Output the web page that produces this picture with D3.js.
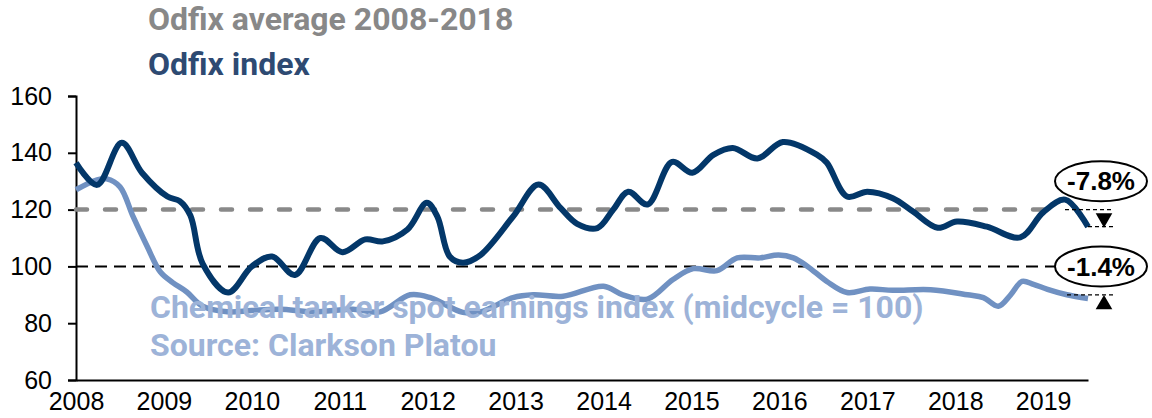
<html>
<style>
body { margin: 0; background: #fff; }
.ttl { font-family: Roboto, sans-serif; font-weight: 700; }
.axis text { font-family: "Liberation Sans", Arial, sans-serif; font-size: 25px; fill: #000; }
</style>
<body>
<script src="https://d3js.org/d3.v7.min.js"></script>
<script>

var width = 1152,
    height = 418;

// Odfix index (decimal year, value)
var odfixDates = [2008.00, 2008.24, 2008.52, 2008.75, 2009.04, 2009.18, 2009.30, 2009.44, 2009.73, 2010.00,
  2010.23, 2010.49, 2010.78, 2011.03, 2011.29, 2011.49, 2011.77, 2011.99, 2012.11, 2012.25,
  2012.40, 2012.60, 2012.97, 2013.26, 2013.51, 2013.70, 2013.93, 2014.11, 2014.28, 2014.50,
  2014.78, 2015.01, 2015.25, 2015.47, 2015.75, 2016.04, 2016.43, 2016.54, 2016.77, 2017.00,
  2017.29, 2017.52, 2017.80, 2018.02, 2018.36, 2018.74, 2019.00, 2019.25, 2019.51];
var odfixValues = [136.5, 128.7, 143.5, 133, 124.6, 123, 118, 101, 90.8, 100,
  103.5, 97, 110, 105, 109.5, 108.8, 113, 122.4, 117.5, 103.5,
  101.3, 104, 117.5, 128.8, 120.6, 115, 113.5, 120, 126.3, 121.8,
  136.8, 133, 139.3, 141.7, 138, 143.8, 139.3, 136.5, 124.6, 126.3,
  124, 119.3, 113.6, 115.8, 114, 110.2, 119, 123.5, 114];

// Chemical tanker spot earnings index
var spotDates = [2008.00, 2008.24, 2008.35, 2008.50, 2008.65, 2008.81, 2008.96, 2009.10, 2009.26, 2009.44,
  2009.72, 2010.00, 2010.32, 2010.70, 2011.15, 2011.46, 2011.80, 2012.03, 2012.40, 2012.60,
  2012.97, 2013.20, 2013.54, 2014.00, 2014.22, 2014.50, 2014.79, 2015.02, 2015.29, 2015.52,
  2015.78, 2015.99, 2016.16, 2016.32, 2016.54, 2016.77, 2017.03, 2017.29, 2017.72, 2018.14,
  2018.32, 2018.49, 2018.63, 2018.76, 2018.89, 2019.05, 2019.27, 2019.51];
var spotValues = [127, 130.5, 130.8, 128, 117.5, 107, 98, 94.3, 91, 86,
  84, 84.5, 84.9, 84, 84.9, 84, 90, 89, 83.8, 84,
  89, 90, 89.5, 93, 90, 88.5, 95.4, 99.2, 98.5, 103,
  103, 104, 103, 100, 94.7, 90.8, 92, 91.6, 91.8, 90,
  89, 86, 90, 94.7, 93.7, 91.9, 90, 88.7];

var years = d3.range(2008, 2020);
var yTicks = [60, 80, 100, 120, 140, 160];
var odfixAverage = 120;   // 2008-2018
var midcycle = 100;
var annLabels = ["-7.8%", "-1.4%"];
var annLabelLevels = [130, 100];
var spotRefLevel = 90;

var titles = ["Odfix average 2008-2018", "Odfix index"];
var notes = ["Chemical tanker spot earnings index (midcycle = 100)", "Source: Clarkson Platou"];

var x = d3.scaleLinear()
    .domain([2008, 2019.51])
    .range([76, 1088]);

var y = d3.scaleLinear()
    .domain([60, 160])
    .range([380, 96]);

var svg = d3.select("body").append("svg")
    .attr("width", width)
    .attr("height", height);

// titles
svg.selectAll(".title")
    .data(titles)
  .enter().append("text")
    .attr("class", "ttl title")
    .attr("x", 148)
    .attr("y", (d, i) => 30 + i * 45)
    .style("font-size", "32px")
    .style("fill", (d, i) => i == 0 ? "#888888" : "#2e4a72")
    .text(d => d);

// y axis
svg.append("g")
    .attr("class", "axis")
    .attr("transform", "translate(" + x(2008) + ",0)")
    .call(d3.axisLeft(y).tickValues(yTicks).tickSize(8).tickPadding(16))
    .call(g => g.selectAll("line,path").attr("stroke", "#000").attr("stroke-width", 2));

// x axis
svg.append("g")
    .attr("class", "axis")
    .attr("transform", "translate(0," + y(60) + ")")
    .call(d3.axisBottom(x).tickValues(years).tickFormat(d3.format("d")).tickSize(0).tickPadding(12).tickSizeOuter(0))
    .call(g => g.select("path").attr("stroke", "#000").attr("stroke-width", 2))
    .call(g => g.selectAll("text").attr("dy", "0.71em"));

// reference lines
svg.append("line")
    .attr("x1", x(2008)).attr("x2", 1050)
    .attr("y1", y(odfixAverage)).attr("y2", y(odfixAverage))
    .attr("stroke", "#898989").attr("stroke-width", 4.5)
    .attr("stroke-linecap", "round")
    .attr("stroke-dasharray", "11,18");

svg.append("line")
    .attr("x1", x(2008)).attr("x2", 1056)
    .attr("y1", y(midcycle)).attr("y2", y(midcycle))
    .attr("stroke", "#000").attr("stroke-width", 2)
    .attr("stroke-dasharray", "12,7");

var line = d3.line()
    .x(d => x(d[0]))
    .y(d => y(d[1]))
    .curve(d3.curveCatmullRom.alpha(0.5));

var odfix = odfixDates.map((d, i) => [d, odfixValues[i]]);
var spot = spotDates.map((d, i) => [d, spotValues[i]]);

svg.append("path")
    .datum(spot)
    .attr("d", line)
    .attr("fill", "none")
    .attr("stroke", "#7091c2")
    .attr("stroke-width", 5.5)
    .attr("stroke-linejoin", "round");

svg.append("path")
    .datum(odfix)
    .attr("d", line)
    .attr("fill", "none")
    .attr("stroke", "#033769")
    .attr("stroke-width", 6)
    .attr("stroke-linejoin", "round");

// notes over the chart
svg.selectAll(".note")
    .data(notes)
  .enter().append("text")
    .attr("class", "ttl note")
    .attr("x", 150)
    .attr("y", (d, i) => 318 + i * 38)
    .style("font-size", "32px")
    .style("fill", "#9db3d8")
    .text(d => d);

// change annotations
var xEnd = x(odfixDates[odfixDates.length - 1]);
var xMark = xEnd + 16;
var lastOdfix = odfixValues[odfixValues.length - 1];
var lastSpot = spotValues[spotValues.length - 1];

var small = [
  [1065, y(odfixAverage)],
  [xEnd, y(lastOdfix)],
  [1067, y(spotRefLevel) ]
];
svg.selectAll(".small")
    .data(small)
  .enter().append("line")
    .attr("x1", d => d[0]).attr("x2", xMark + 9)
    .attr("y1", d => d[1]).attr("y2", d => d[1])
    .attr("stroke", "#000").attr("stroke-width", 1.2)
    .attr("stroke-dasharray", "4,3");

var tri = d3.symbol().type(d3.symbolTriangle).size(120);
svg.append("path")
    .attr("d", tri)
    .attr("transform", "translate(" + xMark + "," + (y(odfixAverage) + y(lastOdfix)) / 2 + ") rotate(180)");
svg.append("path")
    .attr("d", tri)
    .attr("transform", "translate(" + xMark + "," + (y(lastSpot) + 6) + ")");

var ann = svg.selectAll(".ann")
    .data(annLabels)
  .enter().append("g")
    .attr("transform", (d, i) => "translate(1101," + y(annLabelLevels[i]) + ")");
ann.append("ellipse")
    .attr("rx", 46).attr("ry", 20)
    .attr("fill", "#fff")
    .attr("stroke", "#000").attr("stroke-width", 2);
ann.append("text")
    .attr("text-anchor", "middle")
    .attr("dy", "0.35em")
    .style("font-family", "'Liberation Sans', Arial, sans-serif")
    .style("font-weight", "700")
    .style("font-size", "26px")
    .text(d => d);

</script>
</body>
</html>
